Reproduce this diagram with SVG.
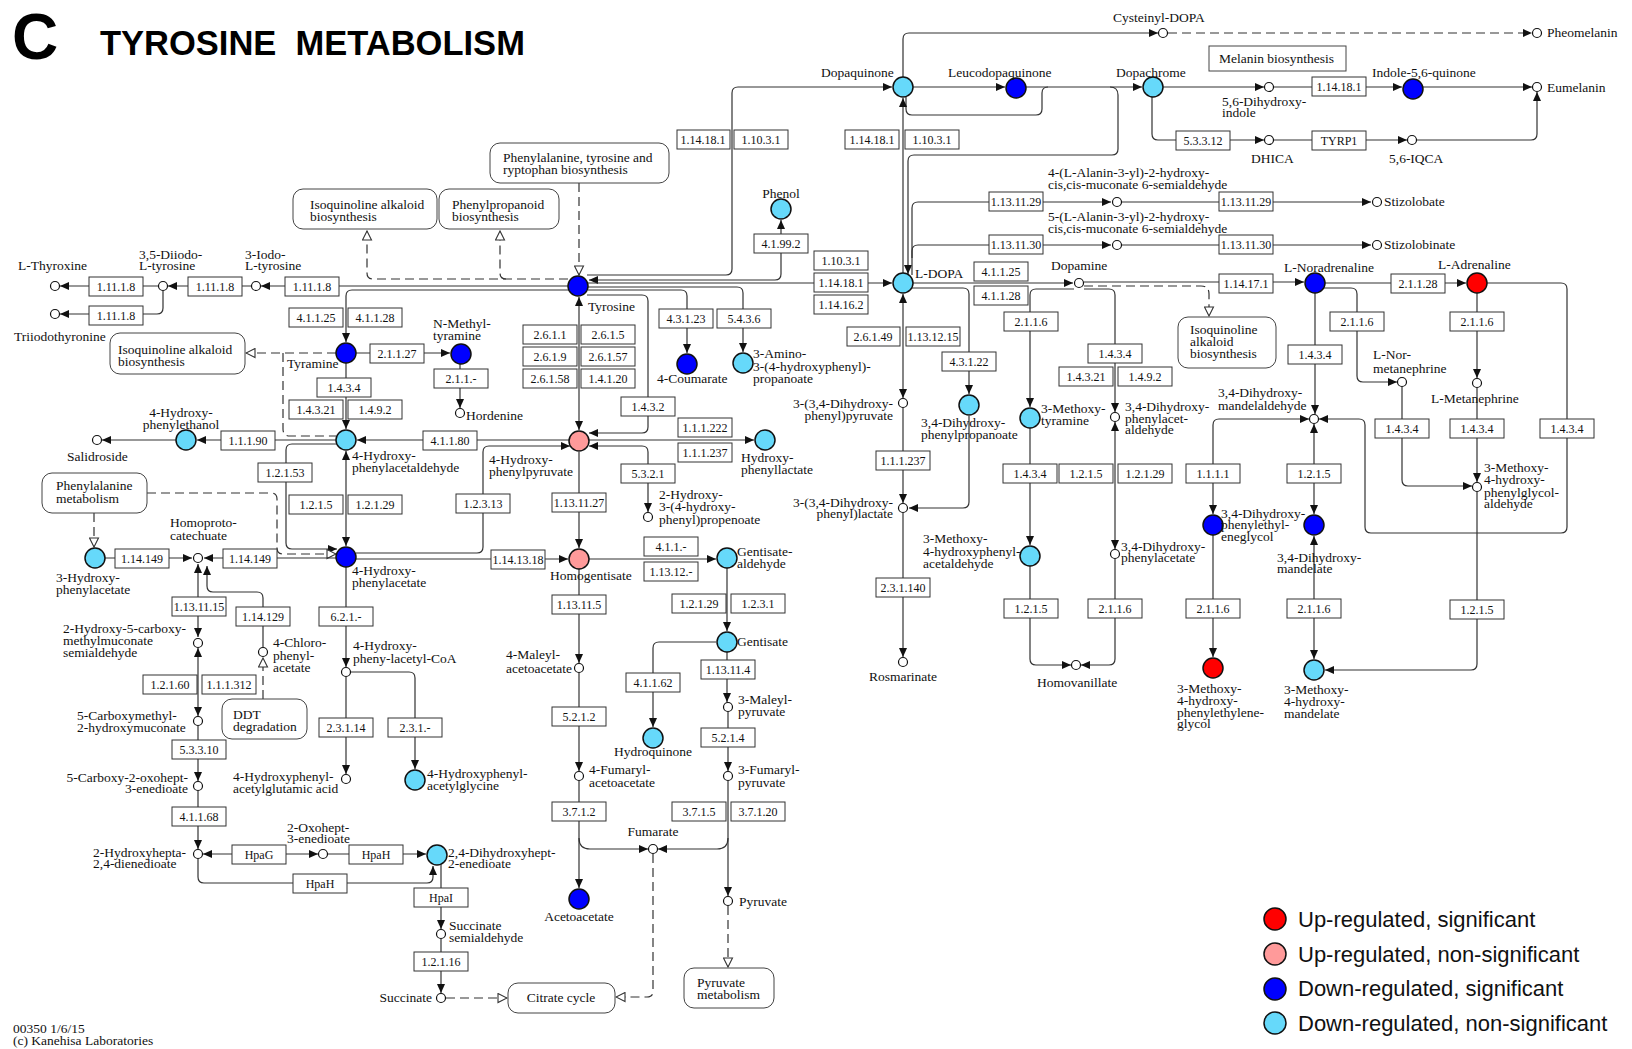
<svg xmlns="http://www.w3.org/2000/svg" width="1632" height="1049" viewBox="0 0 1632 1049">
<style>
.ln{fill:none;stroke:#333;stroke-width:1.2}
.ds{fill:none;stroke:#333;stroke-width:1.2;stroke-dasharray:9 5}
.ea{marker-end:url(#a)}
.sa{marker-start:url(#a)}
.eh{marker-end:url(#h)}
.enz rect{fill:#fff;stroke:#333;stroke-width:1}
.enz text{font-family:'Liberation Serif',serif;font-size:12px;text-anchor:middle;fill:#111}
.map rect{fill:#fff;stroke:#444;stroke-width:1}
.t{font-family:'Liberation Serif',serif;font-size:13.5px;fill:#111}
.mid{text-anchor:middle}
.end{text-anchor:end}
.cp circle{stroke:#111;stroke-width:1.5}
.sm circle{fill:#fff;stroke:#111;stroke-width:1.2}
.dn{fill:#0000ff}.dl{fill:#66d9fa}.up{fill:#ff0000}.ul{fill:#ff9a9a}
.lg{font-family:'Liberation Sans',Arial,sans-serif;font-size:22px;fill:#111}
</style>
<defs>
<marker id="a" markerUnits="userSpaceOnUse" markerWidth="9" markerHeight="8" refX="9" refY="4" orient="auto-start-reverse"><path d="M0,0 L9,4 L0,8 z" fill="#111"/></marker>
<marker id="h" markerUnits="userSpaceOnUse" markerWidth="11" markerHeight="11" refX="10" refY="5.5" orient="auto-start-reverse"><path d="M1,1 L10,5.5 L1,10 z" fill="#fff" stroke="#333" stroke-width="1.1"/></marker>
</defs>
<rect width="1632" height="1049" fill="#fff"/>
<g id="title">
<text x="12" y="59" font-family="'Liberation Sans',Arial,sans-serif" font-weight="bold" font-size="64">C</text>
<text x="100" y="55" font-family="'Liberation Sans',Arial,sans-serif" font-weight="bold" font-size="34.5" xml:space="preserve">TYROSINE  METABOLISM</text>
</g>
<g id="connectors">
<path class="ln ea" d="M568 286H261"/>
<path class="ln ea" d="M251 286H168"/>
<path class="ln ea" d="M158 286H60"/>
<path class="ln ea" d="M163 291V308Q163 314 157 314H60"/>
<path class="ln ea" d="M569 290H352Q346 290 346 296V342"/>
<path class="ds eh" d="M568 279H373Q367 279 367 273V231"/>
<path class="ds eh" d="M506 279Q500 279 500 273V231"/>
<path class="ds eh" d="M579 183V275"/>
<path class="ln ea" d="M587 275H726Q732 275 732 269V93Q732 87 738 87H892"/>
<path class="ln sa ea" d="M589 280H775Q781 280 781 274V220"/>
<path class="ln ea" d="M588 283H892"/>
<path class="ln ea" d="M588 290H681Q687 290 687 296V353"/>
<path class="ln ea" d="M588 287H737Q743 287 743 293V352"/>
<path class="ln ea" d="M587 295H642Q648 295 648 301V427Q648 433 642 433H589"/>
<path class="ln sa ea" d="M579 297V430"/>
<path class="ln ea" d="M589 440H754"/>
<path class="ln sa ea" d="M589 446H642Q648 446 648 452V512"/>
<path class="ln ea" d="M579 452V548"/>
<path class="ln ea" d="M569 440H357"/>
<path class="ln ea" d="M356 553H477Q483 553 483 547V452Q483 446 489 446H570"/>
<path class="ln ea" d="M356 559H568"/>
<path class="ln ea" d="M589 559H716"/>
<path class="ln ea" d="M579 569V663"/>
<path class="ln ea" d="M579 673V771"/>
<path class="ln ea" d="M579 781V888"/>
<path class="ln ea" d="M579 838Q579 849 590 849H648"/>
<path class="ln ea" d="M728 838Q728 849 717 849H658"/>
<path class="ln ea" d="M727 568V631"/>
<path class="ln ea" d="M716 642H659Q653 642 653 648V727"/>
<path class="ln ea" d="M727 652V702"/>
<path class="ln ea" d="M728 712V771"/>
<path class="ln ea" d="M728 781V896"/>
<path class="ds eh" d="M728 906V967"/>
<path class="ds eh" d="M653 854V991Q653 997 647 997H616"/>
<path class="ds eh" d="M446 998H507"/>
<path class="ln ea" d="M346 567V667"/>
<path class="ln ea" d="M346 677V774"/>
<path class="ln ea" d="M351 672H409Q415 672 415 678V769"/>
<path class="ln ea" d="M356 353H450"/>
<path class="ln ea" d="M460 364V408"/>
<path class="ln ea" d="M346 363V429"/>
<path class="ds eh" d="M336 353H246"/>
<path class="ds" d="M283 353V429Q283 436 290 436H336"/>
<path class="ln ea" d="M336 440H197"/>
<path class="ln ea" d="M176 440H102"/>
<path class="ln sa ea" d="M346 451V546"/>
<path class="ln ea" d="M337 444H292Q286 444 286 450V543Q286 549 292 549H337"/>
<path class="ds eh" d="M147 493H271Q277 493 277 499V548Q277 554 283 554H336"/>
<path class="ds eh" d="M94 513V547"/>
<path class="ln ea" d="M105 558H192"/>
<path class="ln ea" d="M336 558H204"/>
<path class="ln sa ea" d="M198 564V637"/>
<path class="ln sa" d="M207 566V586Q207 592 213 592H257Q263 592 263 598V647"/>
<path class="ds eh" d="M263 699V658"/>
<path class="ln sa ea" d="M198 648V716"/>
<path class="ln ea" d="M198 726V781"/>
<path class="ln ea" d="M198 791V849"/>
<path class="ln sa ea" d="M203 854H318"/>
<path class="ln ea" d="M328 854H426"/>
<path class="ln ea" d="M198 859V877Q198 883 204 883H427Q433 883 433 877V866"/>
<path class="ln ea" d="M441 864V929"/>
<path class="ln ea" d="M441 939V993"/>
<path class="ln ea" d="M903 77V39Q903 33 909 33H1158"/>
<path class="ds ea" d="M1168 33H1532"/>
<path class="ln ea" d="M913 87H1005"/>
<path class="ln" d="M906 97V109Q906 115 912 115H1036Q1042 115 1042 109V93Q1042 87 1048 87"/>
<path class="ln ea" d="M1026 87H1142"/>
<path class="ln ea" d="M1110 87Q1118 87 1118 95V149Q1118 155 1112 155H914Q908 155 908 161V274"/>
<path class="ln ea" d="M903 273V98"/>
<path class="ln ea" d="M912 275V208Q912 202 918 202H1111"/>
<path class="ln ea" d="M1122 202H1371"/>
<path class="ln ea" d="M912 258V251Q912 245 918 245H1111"/>
<path class="ln ea" d="M1122 245H1371"/>
<path class="ln ea" d="M913 283H1073"/>
<path class="ln ea" d="M911 288H963Q969 288 969 294V394"/>
<path class="ln sa ea" d="M903 294V398"/>
<path class="ln ea" d="M903 408V503"/>
<path class="ln ea" d="M969 416V502Q969 508 963 508H909"/>
<path class="ln ea" d="M903 513V657"/>
<path class="ln ea" d="M1074 289H1036Q1030 289 1030 295V407"/>
<path class="ln ea" d="M1084 289H1109Q1115 289 1115 295V412"/>
<path class="ds eh" d="M1084 286H1201Q1209 286 1209 294V316"/>
<path class="ln ea" d="M1084 282H1304"/>
<path class="ln ea" d="M1325 283H1466"/>
<path class="ln ea" d="M1322 288H1351Q1357 288 1357 294V376Q1357 382 1363 382H1397"/>
<path class="ln ea" d="M1315 293V414"/>
<path class="ln ea" d="M1477 293V378"/>
<path class="ln ea" d="M1487 283H1561Q1567 283 1567 289V527Q1567 533 1561 533H1371Q1365 533 1365 527V425Q1365 419 1359 419H1319"/>
<path class="ln ea" d="M1402 387V480Q1402 486 1408 486H1472"/>
<path class="ln ea" d="M1477 388V482"/>
<path class="ln ea" d="M1477 492V664Q1477 670 1471 670H1325"/>
<path class="ln sa ea" d="M1314 424V514"/>
<path class="ln sa ea" d="M1314 536V659"/>
<path class="ln sa ea" d="M1213 514V425Q1213 419 1219 419H1309"/>
<path class="ln ea" d="M1213 535V657"/>
<path class="ln ea" d="M1163 87H1264"/>
<path class="ln ea" d="M1274 87H1402"/>
<path class="ln ea" d="M1423 87H1532"/>
<path class="ln ea" d="M1152 97V134Q1152 140 1158 140H1264"/>
<path class="ln ea" d="M1274 140H1407"/>
<path class="ln ea" d="M1417 140H1531Q1537 140 1537 134V92"/>
<path class="ln ea" d="M1030 428V545"/>
<path class="ln ea" d="M1030 566V659Q1030 665 1036 665H1071"/>
<path class="ln sa ea" d="M1115 422V549"/>
<path class="ln ea" d="M1115 559V659Q1115 665 1109 665H1081"/>
</g>
<g id="maps">
<g id="m-isoq1" class="map"><rect x="293" y="189" width="144" height="40" rx="10"/><text class="t" x="310" y="209">Isoquinoline alkaloid<tspan x="310" y="221">biosynthesis</tspan></text></g>
<g id="m-phenylprop" class="map"><rect x="439" y="189" width="120" height="40" rx="10"/><text class="t" x="452" y="209">Phenylpropanoid<tspan x="452" y="221">biosynthesis</tspan></text></g>
<g id="m-phetyrtrp" class="map"><rect x="490" y="143" width="179" height="40" rx="10"/><text class="t" x="503" y="162">Phenylalanine, tyrosine and<tspan x="503" y="174">ryptophan biosynthesis</tspan></text></g>
<g id="m-isoq2" class="map"><rect x="110" y="333" width="135" height="41" rx="10"/><text class="t" x="118" y="354">Isoquinoline alkaloid<tspan x="118" y="366">biosynthesis</tspan></text></g>
<g id="m-phe" class="map"><rect x="42" y="473" width="105" height="40" rx="10"/><text class="t" x="56" y="490">Phenylalanine<tspan x="56" y="503">metabolism</tspan></text></g>
<g id="m-ddt" class="map"><rect x="222" y="699" width="85" height="40" rx="10"/><text class="t" x="233" y="719">DDT<tspan x="233" y="731">degradation</tspan></text></g>
<g id="m-citrate" class="map"><rect x="508" y="983" width="107" height="30" rx="10"/><text class="t mid" x="561" y="1002">Citrate cycle</text></g>
<g id="m-pyruvate" class="map"><rect x="684" y="968" width="90" height="40" rx="10"/><text class="t" x="697" y="987">Pyruvate<tspan x="697" y="999">metabolism</tspan></text></g>
<g id="m-isoq3" class="map"><rect x="1178" y="317" width="98" height="51" rx="10"/><text class="t" x="1190" y="334">Isoquinoline<tspan x="1190" y="346">alkaloid</tspan><tspan x="1190" y="358">biosynthesis</tspan></text></g>
<g id="m-melanin" class="map"><rect x="1209" y="46" width="137" height="25"/><text class="t" x="1219" y="63">Melanin biosynthesis</text></g>
</g>
<g id="enzymes">
<g id="e1" class="enz"><rect x="89" y="277" width="54" height="19"/><text x="116" y="291">1.11.1.8</text></g>
<g id="e2" class="enz"><rect x="188" y="277" width="54" height="19"/><text x="215" y="291">1.11.1.8</text></g>
<g id="e3" class="enz"><rect x="285" y="277" width="54" height="19"/><text x="312" y="291">1.11.1.8</text></g>
<g id="e4" class="enz"><rect x="89" y="306" width="54" height="19"/><text x="116" y="320">1.11.1.8</text></g>
<g id="e5" class="enz"><rect x="289" y="308" width="54" height="19"/><text x="316" y="322">4.1.1.25</text></g>
<g id="e6" class="enz"><rect x="348" y="308" width="54" height="19"/><text x="375" y="322">4.1.1.28</text></g>
<g id="e7" class="enz"><rect x="370" y="344" width="54" height="19"/><text x="397" y="358">2.1.1.27</text></g>
<g id="e8" class="enz"><rect x="434" y="369" width="54" height="19"/><text x="461" y="383">2.1.1.-</text></g>
<g id="e9" class="enz"><rect x="317" y="378" width="54" height="19"/><text x="344" y="392">1.4.3.4</text></g>
<g id="e10" class="enz"><rect x="289" y="400" width="54" height="19"/><text x="316" y="414">1.4.3.21</text></g>
<g id="e11" class="enz"><rect x="348" y="400" width="54" height="19"/><text x="375" y="414">1.4.9.2</text></g>
<g id="e12" class="enz"><rect x="221" y="431" width="54" height="19"/><text x="248" y="445">1.1.1.90</text></g>
<g id="e13" class="enz"><rect x="423" y="431" width="54" height="19"/><text x="450" y="445">4.1.1.80</text></g>
<g id="e14" class="enz"><rect x="258" y="463" width="54" height="19"/><text x="285" y="477">1.2.1.53</text></g>
<g id="e15" class="enz"><rect x="289" y="495" width="54" height="19"/><text x="316" y="509">1.2.1.5</text></g>
<g id="e16" class="enz"><rect x="348" y="495" width="54" height="19"/><text x="375" y="509">1.2.1.29</text></g>
<g id="e17" class="enz"><rect x="456" y="494" width="54" height="19"/><text x="483" y="508">1.2.3.13</text></g>
<g id="e18" class="enz"><rect x="115" y="549" width="54" height="19"/><text x="142" y="563">1.14.149</text></g>
<g id="e19" class="enz"><rect x="223" y="549" width="54" height="19"/><text x="250" y="563">1.14.149</text></g>
<g id="e20" class="enz"><rect x="491" y="550" width="54" height="19"/><text x="518" y="564">1.14.13.18</text></g>
<g id="e21" class="enz"><rect x="172" y="597" width="54" height="19"/><text x="199" y="611">1.13.11.15</text></g>
<g id="e22" class="enz"><rect x="236" y="607" width="54" height="19"/><text x="263" y="621">1.14.129</text></g>
<g id="e23" class="enz"><rect x="319" y="607" width="54" height="19"/><text x="346" y="621">6.2.1.-</text></g>
<g id="e24" class="enz"><rect x="143" y="675" width="54" height="19"/><text x="170" y="689">1.2.1.60</text></g>
<g id="e25" class="enz"><rect x="202" y="675" width="54" height="19"/><text x="229" y="689">1.1.1.312</text></g>
<g id="e26" class="enz"><rect x="172" y="740" width="54" height="19"/><text x="199" y="754">5.3.3.10</text></g>
<g id="e27" class="enz"><rect x="319" y="718" width="54" height="19"/><text x="346" y="732">2.3.1.14</text></g>
<g id="e28" class="enz"><rect x="388" y="718" width="54" height="19"/><text x="415" y="732">2.3.1.-</text></g>
<g id="e29" class="enz"><rect x="172" y="807" width="54" height="19"/><text x="199" y="821">4.1.1.68</text></g>
<g id="e30" class="enz"><rect x="232" y="845" width="54" height="19"/><text x="259" y="859">HpaG</text></g>
<g id="e31" class="enz"><rect x="349" y="845" width="54" height="19"/><text x="376" y="859">HpaH</text></g>
<g id="e32" class="enz"><rect x="293" y="874" width="54" height="19"/><text x="320" y="888">HpaH</text></g>
<g id="e33" class="enz"><rect x="414" y="888" width="54" height="19"/><text x="441" y="902">HpaI</text></g>
<g id="e34" class="enz"><rect x="414" y="952" width="54" height="19"/><text x="441" y="966">1.2.1.16</text></g>
<g id="e35" class="enz"><rect x="523" y="325" width="54" height="19"/><text x="550" y="339">2.6.1.1</text></g>
<g id="e36" class="enz"><rect x="581" y="325" width="54" height="19"/><text x="608" y="339">2.6.1.5</text></g>
<g id="e37" class="enz"><rect x="523" y="347" width="54" height="19"/><text x="550" y="361">2.6.1.9</text></g>
<g id="e38" class="enz"><rect x="581" y="347" width="54" height="19"/><text x="608" y="361">2.6.1.57</text></g>
<g id="e39" class="enz"><rect x="523" y="369" width="54" height="19"/><text x="550" y="383">2.6.1.58</text></g>
<g id="e40" class="enz"><rect x="581" y="369" width="54" height="19"/><text x="608" y="383">1.4.1.20</text></g>
<g id="e41" class="enz"><rect x="621" y="397" width="54" height="19"/><text x="648" y="411">1.4.3.2</text></g>
<g id="e42" class="enz"><rect x="678" y="418" width="54" height="19"/><text x="705" y="432">1.1.1.222</text></g>
<g id="e43" class="enz"><rect x="678" y="443" width="54" height="19"/><text x="705" y="457">1.1.1.237</text></g>
<g id="e44" class="enz"><rect x="621" y="464" width="54" height="19"/><text x="648" y="478">5.3.2.1</text></g>
<g id="e45" class="enz"><rect x="552" y="493" width="54" height="19"/><text x="579" y="507">1.13.11.27</text></g>
<g id="e46" class="enz"><rect x="644" y="537" width="54" height="19"/><text x="671" y="551">4.1.1.-</text></g>
<g id="e47" class="enz"><rect x="644" y="562" width="54" height="19"/><text x="671" y="576">1.13.12.-</text></g>
<g id="e48" class="enz"><rect x="552" y="595" width="54" height="19"/><text x="579" y="609">1.13.11.5</text></g>
<g id="e49" class="enz"><rect x="672" y="594" width="54" height="19"/><text x="699" y="608">1.2.1.29</text></g>
<g id="e50" class="enz"><rect x="731" y="594" width="54" height="19"/><text x="758" y="608">1.2.3.1</text></g>
<g id="e51" class="enz"><rect x="701" y="660" width="54" height="19"/><text x="728" y="674">1.13.11.4</text></g>
<g id="e52" class="enz"><rect x="626" y="673" width="54" height="19"/><text x="653" y="687">4.1.1.62</text></g>
<g id="e53" class="enz"><rect x="552" y="707" width="54" height="19"/><text x="579" y="721">5.2.1.2</text></g>
<g id="e54" class="enz"><rect x="701" y="728" width="54" height="19"/><text x="728" y="742">5.2.1.4</text></g>
<g id="e55" class="enz"><rect x="552" y="802" width="54" height="19"/><text x="579" y="816">3.7.1.2</text></g>
<g id="e56" class="enz"><rect x="672" y="802" width="54" height="19"/><text x="699" y="816">3.7.1.5</text></g>
<g id="e57" class="enz"><rect x="731" y="802" width="54" height="19"/><text x="758" y="816">3.7.1.20</text></g>
<g id="e58" class="enz"><rect x="659" y="309" width="54" height="19"/><text x="686" y="323">4.3.1.23</text></g>
<g id="e59" class="enz"><rect x="717" y="309" width="54" height="19"/><text x="744" y="323">5.4.3.6</text></g>
<g id="e60" class="enz"><rect x="677" y="130" width="53" height="19"/><text x="703" y="144">1.14.18.1</text></g>
<g id="e61" class="enz"><rect x="734" y="130" width="54" height="19"/><text x="761" y="144">1.10.3.1</text></g>
<g id="e62" class="enz"><rect x="754" y="234" width="54" height="19"/><text x="781" y="248">4.1.99.2</text></g>
<g id="e63" class="enz"><rect x="814" y="251" width="54" height="19"/><text x="841" y="265">1.10.3.1</text></g>
<g id="e64" class="enz"><rect x="814" y="273" width="54" height="19"/><text x="841" y="287">1.14.18.1</text></g>
<g id="e65" class="enz"><rect x="814" y="295" width="54" height="19"/><text x="841" y="309">1.14.16.2</text></g>
<g id="e66" class="enz"><rect x="845" y="130" width="54" height="19"/><text x="872" y="144">1.14.18.1</text></g>
<g id="e67" class="enz"><rect x="905" y="130" width="54" height="19"/><text x="932" y="144">1.10.3.1</text></g>
<g id="e68" class="enz"><rect x="974" y="262" width="54" height="19"/><text x="1001" y="276">4.1.1.25</text></g>
<g id="e69" class="enz"><rect x="974" y="286" width="54" height="19"/><text x="1001" y="300">4.1.1.28</text></g>
<g id="e70" class="enz"><rect x="847" y="327" width="53" height="19"/><text x="873" y="341">2.6.1.49</text></g>
<g id="e71" class="enz"><rect x="906" y="327" width="54" height="19"/><text x="933" y="341">1.13.12.15</text></g>
<g id="e72" class="enz"><rect x="942" y="352" width="54" height="19"/><text x="969" y="366">4.3.1.22</text></g>
<g id="e73" class="enz"><rect x="876" y="451" width="54" height="19"/><text x="903" y="465">1.1.1.237</text></g>
<g id="e74" class="enz"><rect x="876" y="578" width="54" height="19"/><text x="903" y="592">2.3.1.140</text></g>
<g id="e75" class="enz"><rect x="1004" y="312" width="54" height="19"/><text x="1031" y="326">2.1.1.6</text></g>
<g id="e76" class="enz"><rect x="1088" y="344" width="54" height="19"/><text x="1115" y="358">1.4.3.4</text></g>
<g id="e77" class="enz"><rect x="1059" y="367" width="54" height="19"/><text x="1086" y="381">1.4.3.21</text></g>
<g id="e78" class="enz"><rect x="1118" y="367" width="54" height="19"/><text x="1145" y="381">1.4.9.2</text></g>
<g id="e79" class="enz"><rect x="1003" y="464" width="54" height="19"/><text x="1030" y="478">1.4.3.4</text></g>
<g id="e80" class="enz"><rect x="1059" y="464" width="54" height="19"/><text x="1086" y="478">1.2.1.5</text></g>
<g id="e81" class="enz"><rect x="1118" y="464" width="54" height="19"/><text x="1145" y="478">1.2.1.29</text></g>
<g id="e82" class="enz"><rect x="1004" y="599" width="54" height="19"/><text x="1031" y="613">1.2.1.5</text></g>
<g id="e83" class="enz"><rect x="1088" y="599" width="54" height="19"/><text x="1115" y="613">2.1.1.6</text></g>
<g id="e84" class="enz"><rect x="989" y="192" width="54" height="19"/><text x="1016" y="206">1.13.11.29</text></g>
<g id="e85" class="enz"><rect x="989" y="235" width="54" height="19"/><text x="1016" y="249">1.13.11.30</text></g>
<g id="e86" class="enz"><rect x="1219" y="192" width="54" height="19"/><text x="1246" y="206">1.13.11.29</text></g>
<g id="e87" class="enz"><rect x="1219" y="235" width="54" height="19"/><text x="1246" y="249">1.13.11.30</text></g>
<g id="e88" class="enz"><rect x="1176" y="131" width="54" height="19"/><text x="1203" y="145">5.3.3.12</text></g>
<g id="e89" class="enz"><rect x="1312" y="77" width="54" height="19"/><text x="1339" y="91">1.14.18.1</text></g>
<g id="e90" class="enz"><rect x="1312" y="131" width="54" height="19"/><text x="1339" y="145">TYRP1</text></g>
<g id="e91" class="enz"><rect x="1219" y="274" width="54" height="19"/><text x="1246" y="288">1.14.17.1</text></g>
<g id="e92" class="enz"><rect x="1391" y="274" width="54" height="19"/><text x="1418" y="288">2.1.1.28</text></g>
<g id="e93" class="enz"><rect x="1330" y="312" width="54" height="19"/><text x="1357" y="326">2.1.1.6</text></g>
<g id="e94" class="enz"><rect x="1450" y="312" width="54" height="19"/><text x="1477" y="326">2.1.1.6</text></g>
<g id="e95" class="enz"><rect x="1288" y="345" width="54" height="19"/><text x="1315" y="359">1.4.3.4</text></g>
<g id="e96" class="enz"><rect x="1375" y="419" width="54" height="19"/><text x="1402" y="433">1.4.3.4</text></g>
<g id="e97" class="enz"><rect x="1450" y="419" width="54" height="19"/><text x="1477" y="433">1.4.3.4</text></g>
<g id="e98" class="enz"><rect x="1540" y="419" width="54" height="19"/><text x="1567" y="433">1.4.3.4</text></g>
<g id="e99" class="enz"><rect x="1186" y="464" width="54" height="19"/><text x="1213" y="478">1.1.1.1</text></g>
<g id="e100" class="enz"><rect x="1287" y="464" width="54" height="19"/><text x="1314" y="478">1.2.1.5</text></g>
<g id="e101" class="enz"><rect x="1186" y="599" width="54" height="19"/><text x="1213" y="613">2.1.1.6</text></g>
<g id="e102" class="enz"><rect x="1287" y="599" width="54" height="19"/><text x="1314" y="613">2.1.1.6</text></g>
<g id="e103" class="enz"><rect x="1450" y="600" width="54" height="19"/><text x="1477" y="614">1.2.1.5</text></g>
</g>
<g id="compounds">
<g id="c-tyrosine" class="cp"><circle class="dn" cx="578" cy="286" r="10"/><text class="t" x="588" y="311">Tyrosine</text></g>
<g id="c-tyramine" class="cp"><circle class="dn" cx="346" cy="353" r="10"/><text class="t" x="287" y="368">Tyramine</text></g>
<g id="c-nmethyltyramine" class="cp"><circle class="dn" cx="461" cy="354" r="10"/><text class="t" x="433" y="328">N-Methyl-<tspan x="433" y="340">tyramine</tspan></text></g>
<g id="c-ohpacald" class="cp"><circle class="dl" cx="346" cy="440" r="10"/><text class="t" x="352" y="460">4-Hydroxy-<tspan x="352" y="472">phenylacetaldehyde</tspan></text></g>
<g id="c-ohpethanol" class="cp"><circle class="dl" cx="186" cy="440" r="10"/><text class="t mid" x="181" y="417">4-Hydroxy-<tspan x="181" y="429">phenylethanol</tspan></text></g>
<g id="c-ohpacetate" class="cp"><circle class="dn" cx="346" cy="557" r="10"/><text class="t" x="352" y="575">4-Hydroxy-<tspan x="352" y="587">phenylacetate</tspan></text></g>
<g id="c-3ohpacetate" class="cp"><circle class="dl" cx="95" cy="558" r="10"/><text class="t" x="56" y="582">3-Hydroxy-<tspan x="56" y="594">phenylacetate</tspan></text></g>
<g id="c-hpp" class="cp"><circle class="ul" cx="579" cy="441" r="10"/><text class="t" x="489" y="464">4-Hydroxy-<tspan x="489" y="476">phenylpyruvate</tspan></text></g>
<g id="c-homogentisate" class="cp"><circle class="ul" cx="579" cy="559" r="10"/><text class="t" x="550" y="580">Homogentisate</text></g>
<g id="c-coumarate" class="cp"><circle class="dn" cx="687" cy="364" r="10"/><text class="t" x="657" y="383">4-Coumarate</text></g>
<g id="c-amino" class="cp"><circle class="dl" cx="743" cy="363" r="10"/><text class="t" x="753" y="358">3-Amino-<tspan x="753" y="371">3-(4-hydroxyphenyl)-</tspan><tspan x="753" y="383">propanoate</tspan></text></g>
<g id="c-hplactate" class="cp"><circle class="dl" cx="765" cy="440" r="10"/><text class="t" x="741" y="462">Hydroxy-<tspan x="741" y="474">phenyllactate</tspan></text></g>
<g id="c-gentald" class="cp"><circle class="dl" cx="727" cy="558" r="10"/><text class="t" x="737" y="556">Gentisate-<tspan x="737" y="568">aldehyde</tspan></text></g>
<g id="c-gentisate" class="cp"><circle class="dl" cx="727" cy="642" r="10"/><text class="t" x="737" y="646">Gentisate</text></g>
<g id="c-hydroquinone" class="cp"><circle class="dl" cx="653" cy="738" r="10"/><text class="t mid" x="653" y="756">Hydroquinone</text></g>
<g id="c-acetoacetate" class="cp"><circle class="dn" cx="579" cy="899" r="10"/><text class="t mid" x="579" y="921">Acetoacetate</text></g>
<g id="c-acglycine" class="cp"><circle class="dl" cx="415" cy="780" r="10"/><text class="t" x="427" y="778">4-Hydroxyphenyl-<tspan x="427" y="790">acetylglycine</tspan></text></g>
<g id="c-dhhept" class="cp"><circle class="dl" cx="437" cy="855" r="10"/><text class="t" x="448" y="857">2,4-Dihydroxyhept-<tspan x="448" y="868">2-enedioate</tspan></text></g>
<g id="c-phenol" class="cp"><circle class="dl" cx="781" cy="209" r="10"/><text class="t mid" x="781" y="198">Phenol</text></g>
<g id="c-dopaquinone" class="cp"><circle class="dl" cx="903" cy="87" r="10"/><text class="t" x="821" y="77">Dopaquinone</text></g>
<g id="c-leucodopaquinone" class="cp"><circle class="dn" cx="1016" cy="88" r="10"/><text class="t" x="948" y="77">Leucodopaquinone</text></g>
<g id="c-dopachrome" class="cp"><circle class="dl" cx="1153" cy="87" r="10"/><text class="t" x="1116" y="77">Dopachrome</text></g>
<g id="c-indolequinone" class="cp"><circle class="dn" cx="1413" cy="89" r="10"/><text class="t" x="1372" y="77">Indole-5,6-quinone</text></g>
<g id="c-ldopa" class="cp"><circle class="dl" cx="903" cy="283" r="10"/><text class="t" x="915" y="278">L-DOPA</text></g>
<g id="c-dhppropanoate" class="cp"><circle class="dl" cx="969" cy="405" r="10"/><text class="t" x="921" y="427">3,4-Dihydroxy-<tspan x="921" y="439">phenylpropanoate</tspan></text></g>
<g id="c-methoxytyramine" class="cp"><circle class="dl" cx="1030" cy="418" r="10"/><text class="t" x="1041" y="413">3-Methoxy-<tspan x="1041" y="425">tyramine</tspan></text></g>
<g id="c-mhpacald" class="cp"><circle class="dl" cx="1030" cy="556" r="10"/><text class="t" x="923" y="543">3-Methoxy-<tspan x="923" y="556">4-hydroxyphenyl-</tspan><tspan x="923" y="568">acetaldehyde</tspan></text></g>
<g id="c-noradrenaline" class="cp"><circle class="dn" cx="1315" cy="283" r="10"/><text class="t" x="1284" y="272">L-Noradrenaline</text></g>
<g id="c-adrenaline" class="cp"><circle class="up" cx="1477" cy="283" r="10"/><text class="t" x="1438" y="269">L-Adrenaline</text></g>
<g id="c-dhpeg" class="cp"><circle class="dn" cx="1213" cy="525" r="10"/><text class="t" x="1221" y="518">3,4-Dihydroxy-<tspan x="1221" y="529">phenylethyl-</tspan><tspan x="1221" y="541">eneglycol</tspan></text></g>
<g id="c-dhmandelate" class="cp"><circle class="dn" cx="1314" cy="525" r="10"/><text class="t" x="1277" y="562">3,4-Dihydroxy-<tspan x="1277" y="573">mandelate</tspan></text></g>
<g id="c-mhpeg" class="cp"><circle class="up" cx="1213" cy="668" r="10"/><text class="t" x="1177" y="693">3-Methoxy-<tspan x="1177" y="705">4-hydroxy-</tspan><tspan x="1177" y="717">phenylethylene-</tspan><tspan x="1177" y="728">glycol</tspan></text></g>
<g id="c-vma" class="cp"><circle class="dl" cx="1314" cy="670" r="10"/><text class="t" x="1284" y="694">3-Methoxy-<tspan x="1284" y="706">4-hydroxy-</tspan><tspan x="1284" y="718">mandelate</tspan></text></g>
<g id="c-thyroxine" class="sm"><circle cx="55" cy="286" r="4.5"/><text class="t" x="18" y="270">L-Thyroxine</text></g>
<g id="c-triiodo" class="sm"><circle cx="55" cy="314" r="4.5"/><text class="t" x="14" y="341">Triiodothyronine</text></g>
<g id="c-diiodo" class="sm"><circle cx="163" cy="286" r="4.5"/><text class="t" x="139" y="259">3,5-Diiodo-<tspan x="139" y="270">L-tyrosine</tspan></text></g>
<g id="c-iodo" class="sm"><circle cx="256" cy="286" r="4.5"/><text class="t" x="245" y="259">3-Iodo-<tspan x="245" y="270">L-tyrosine</tspan></text></g>
<g id="c-hordenine" class="sm"><circle cx="460" cy="413" r="4.5"/><text class="t" x="466" y="420">Hordenine</text></g>
<g id="c-salidroside" class="sm"><circle cx="97" cy="440" r="4.5"/><text class="t" x="67" y="461">Salidroside</text></g>
<g id="c-homoproto" class="sm"><circle cx="198" cy="558" r="4.5"/><text class="t" x="170" y="527">Homoproto-<tspan x="170" y="540">catechuate</tspan></text></g>
<g id="c-hcmms" class="sm"><circle cx="198" cy="643" r="4.5"/><text class="t" x="63" y="633">2-Hydroxy-5-carboxy-<tspan x="63" y="645">methylmuconate</tspan><tspan x="63" y="657">semialdehyde</tspan></text></g>
<g id="c-chloro" class="sm"><circle cx="263" cy="652" r="4.5"/><text class="t" x="273" y="647">4-Chloro-<tspan x="273" y="660">phenyl-</tspan><tspan x="273" y="672">acetate</tspan></text></g>
<g id="c-cmhm" class="sm"><circle cx="198" cy="721" r="4.5"/><text class="t" x="77" y="720">5-Carboxymethyl-<tspan x="77" y="732">2-hydroxymuconate</tspan></text></g>
<g id="c-coh" class="sm"><circle cx="198" cy="786" r="4.5"/><text class="t end" x="188" y="782">5-Carboxy-2-oxohept-<tspan x="188" y="793">3-enedioate</tspan></text></g>
<g id="c-hhdd" class="sm"><circle cx="198" cy="854" r="4.5"/><text class="t" x="93" y="857">2-Hydroxyhepta-<tspan x="93" y="868">2,4-dienedioate</tspan></text></g>
<g id="c-oxohept" class="sm"><circle cx="323" cy="854" r="4.5"/><text class="t" x="287" y="832">2-Oxohept-<tspan x="287" y="843">3-enedioate</tspan></text></g>
<g id="c-coa" class="sm"><circle cx="346" cy="672" r="4.5"/><text class="t" x="353" y="650">4-Hydroxy-<tspan x="353" y="663">pheny-lacetyl-CoA</tspan></text></g>
<g id="c-glutamic" class="sm"><circle cx="346" cy="779" r="4.5"/><text class="t" x="233" y="781">4-Hydroxyphenyl-<tspan x="233" y="793">acetylglutamic acid</tspan></text></g>
<g id="c-ssa" class="sm"><circle cx="441" cy="934" r="4.5"/><text class="t" x="449" y="930">Succinate<tspan x="449" y="942">semialdehyde</tspan></text></g>
<g id="c-succinate" class="sm"><circle cx="441" cy="998" r="4.5"/><text class="t end" x="432" y="1002">Succinate</text></g>
<g id="c-hhpp" class="sm"><circle cx="648" cy="517" r="4.5"/><text class="t" x="659" y="499">2-Hydroxy-<tspan x="659" y="511">3-(4-hydroxy-</tspan><tspan x="659" y="524">phenyl)propenoate</tspan></text></g>
<g id="c-maleylacetoacetate" class="sm"><circle cx="579" cy="668" r="4.5"/><text class="t" x="506" y="659">4-Maleyl-<tspan x="506" y="673">acetoacetate</tspan></text></g>
<g id="c-fumarylacetoacetate" class="sm"><circle cx="579" cy="776" r="4.5"/><text class="t" x="589" y="774">4-Fumaryl-<tspan x="589" y="787">acetoacetate</tspan></text></g>
<g id="c-fumarate" class="sm"><circle cx="653" cy="849" r="4.5"/><text class="t mid" x="653" y="836">Fumarate</text></g>
<g id="c-maleylpyruvate" class="sm"><circle cx="728" cy="707" r="4.5"/><text class="t" x="738" y="704">3-Maleyl-<tspan x="738" y="716">pyruvate</tspan></text></g>
<g id="c-fumarylpyruvate" class="sm"><circle cx="728" cy="776" r="4.5"/><text class="t" x="738" y="774">3-Fumaryl-<tspan x="738" y="787">pyruvate</tspan></text></g>
<g id="c-pyruvate" class="sm"><circle cx="728" cy="901" r="4.5"/><text class="t" x="739" y="906">Pyruvate</text></g>
<g id="c-cysteinyldopa" class="sm"><circle cx="1163" cy="33" r="4.5"/><text class="t" x="1113" y="22">Cysteinyl-DOPA</text></g>
<g id="c-pheomelanin" class="sm"><circle cx="1537" cy="33" r="4.5"/><text class="t" x="1547" y="37">Pheomelanin</text></g>
<g id="c-dhi" class="sm"><circle cx="1269" cy="87" r="4.5"/><text class="t" x="1222" y="106">5,6-Dihydroxy-<tspan x="1222" y="117">indole</tspan></text></g>
<g id="c-eumelanin" class="sm"><circle cx="1537" cy="87" r="4.5"/><text class="t" x="1547" y="92">Eumelanin</text></g>
<g id="c-dhica" class="sm"><circle cx="1269" cy="140" r="4.5"/><text class="t" x="1251" y="163">DHICA</text></g>
<g id="c-iqca" class="sm"><circle cx="1412" cy="140" r="4.5"/><text class="t" x="1389" y="163">5,6-IQCA</text></g>
<g id="c-ala4" class="sm"><circle cx="1117" cy="202" r="4.5"/><text class="t" x="1048" y="177">4-(L-Alanin-3-yl)-2-hydroxy-<tspan x="1048" y="189">cis,cis-muconate 6-semialdehyde</tspan></text></g>
<g id="c-ala5" class="sm"><circle cx="1117" cy="245" r="4.5"/><text class="t" x="1048" y="221">5-(L-Alanin-3-yl)-2-hydroxy-<tspan x="1048" y="233">cis,cis-muconate 6-semialdehyde</tspan></text></g>
<g id="c-stizolobate" class="sm"><circle cx="1377" cy="202" r="4.5"/><text class="t" x="1384" y="206">Stizolobate</text></g>
<g id="c-stizolobinate" class="sm"><circle cx="1377" cy="245" r="4.5"/><text class="t" x="1384" y="249">Stizolobinate</text></g>
<g id="c-dopamine" class="sm"><circle cx="1079" cy="283" r="4.5"/><text class="t" x="1051" y="270">Dopamine</text></g>
<g id="c-dhppyruvate" class="sm"><circle cx="903" cy="403" r="4.5"/><text class="t end" x="893" y="408">3-(3,4-Dihydroxy-<tspan x="893" y="420">phenyl)pyruvate</tspan></text></g>
<g id="c-dhplactate" class="sm"><circle cx="903" cy="508" r="4.5"/><text class="t end" x="893" y="507">3-(3,4-Dihydroxy-<tspan x="893" y="518">phenyl)lactate</tspan></text></g>
<g id="c-rosmarinate" class="sm"><circle cx="903" cy="662" r="4.5"/><text class="t mid" x="903" y="681">Rosmarinate</text></g>
<g id="c-dopal" class="sm"><circle cx="1115" cy="417" r="4.5"/><text class="t" x="1125" y="411">3,4-Dihydroxy-<tspan x="1125" y="423">phenylacet-</tspan><tspan x="1125" y="434">aldehyde</tspan></text></g>
<g id="c-dopac" class="sm"><circle cx="1115" cy="554" r="4.5"/><text class="t" x="1121" y="551">3,4-Dihydroxy-<tspan x="1121" y="562">phenylacetate</tspan></text></g>
<g id="c-homovanillate" class="sm"><circle cx="1076" cy="665" r="4.5"/><text class="t" x="1037" y="687">Homovanillate</text></g>
<g id="c-normetanephrine" class="sm"><circle cx="1402" cy="382" r="4.5"/><text class="t" x="1373" y="359">L-Nor-<tspan x="1373" y="373">metanephrine</tspan></text></g>
<g id="c-metanephrine" class="sm"><circle cx="1477" cy="383" r="4.5"/><text class="t" x="1431" y="403">L-Metanephrine</text></g>
<g id="c-dhmald" class="sm"><circle cx="1314" cy="419" r="4.5"/><text class="t" x="1218" y="397">3,4-Dihydroxy-<tspan x="1218" y="410">mandelaldehyde</tspan></text></g>
<g id="c-mhpgald" class="sm"><circle cx="1477" cy="487" r="4.5"/><text class="t" x="1484" y="472">3-Methoxy-<tspan x="1484" y="484">4-hydroxy-</tspan><tspan x="1484" y="497">phenylglycol-</tspan><tspan x="1484" y="508">aldehyde</tspan></text></g>
</g>
<g id="legend">
<circle class="up" cx="1275" cy="919" r="11" stroke="#111" stroke-width="1.5"/><text class="lg" x="1298" y="927">Up-regulated, significant</text>
<circle class="ul" cx="1275" cy="954" r="11" stroke="#111" stroke-width="1.5"/><text class="lg" x="1298" y="962">Up-regulated, non-significant</text>
<circle class="dn" cx="1275" cy="989" r="11" stroke="#111" stroke-width="1.5"/><text class="lg" x="1298" y="996">Down-regulated, significant</text>
<circle class="dl" cx="1275" cy="1023" r="11" stroke="#111" stroke-width="1.5"/><text class="lg" x="1298" y="1031">Down-regulated, non-significant</text>
</g>
<g id="footer">
<text class="t" x="13" y="1033" font-size="13">00350 1/6/15</text>
<text class="t" x="13" y="1045" font-size="13">(c) Kanehisa Laboratories</text>
</g>
</svg>
